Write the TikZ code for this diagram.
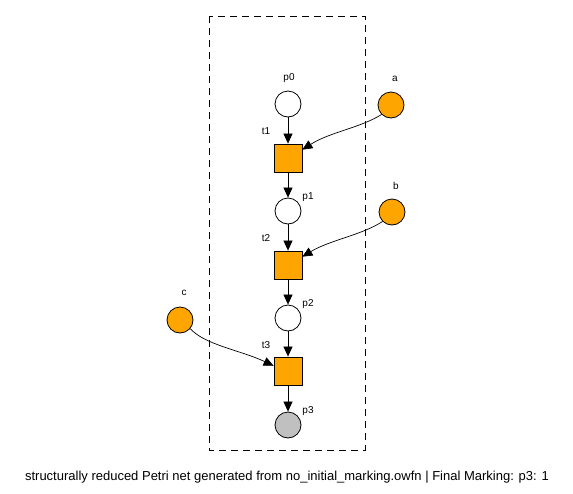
\documentclass[tikz,border=0pt]{standalone}
\usepackage{fontspec}
\setmainfont{Liberation Sans}
\usetikzlibrary{arrows.meta}
\definecolor{porange}{HTML}{FFA500}
\definecolor{pgray}{HTML}{C0C0C0}
\tikzset{
  place/.style={circle,draw=black,line width=0.8pt,minimum size=26pt,inner sep=0pt,fill=white},
  iplace/.style={place,fill=porange},
  fplace/.style={place,fill=pgray},
  trans/.style={rectangle,draw=black,line width=0.8pt,minimum size=28pt,inner sep=0pt,fill=porange},
  lbl/.style={font=\fontsize{10}{11}\selectfont,inner sep=0pt},
  arc/.style={draw=black,line width=0.7pt,-{Triangle[length=10pt,width=9pt]}},
}
\begin{document}
\begin{tikzpicture}[x=1pt,y=-1pt]
\useasboundingbox (0,0) rectangle (573,493);
\draw[dash pattern=on 7pt off 5pt,line width=0.7pt] (209,16) rectangle (365,450);
\node[place] (p0) at (288,104) {};
\node[iplace] (a) at (391,105) {};
\node[trans] (t1) at (288,158) {};
\node[place] (p1) at (288,211) {};
\node[iplace] (b) at (392,212) {};
\node[trans] (t2) at (288,265) {};
\node[place] (p2) at (288,318) {};
\node[iplace] (c) at (180,320) {};
\node[trans] (t3) at (288,371) {};
\node[fplace] (p3) at (288,425) {};
\node[lbl] (lp0) at (289,78) {p0};
\node[lbl] (la) at (395,79) {a};
\node[lbl] (lt1) at (266,131) {t1};
\node[lbl] (lp1) at (308,197) {p1};
\node[lbl] (lb) at (396,186) {b};
\node[lbl] (lt2) at (266,238) {t2};
\node[lbl] (lp2) at (308,304) {p2};
\node[lbl] (lc) at (184,293) {c};
\node[lbl] (lt3) at (266,345) {t3};
\node[lbl] (lp3) at (308,411) {p3};
\draw[arc] (p0) -- (t1);
\draw[arc] (t1) -- (p1);
\draw[arc] (p1) -- (t2);
\draw[arc] (t2) -- (p2);
\draw[arc] (p2) -- (t3);
\draw[arc] (t3) -- (p3);
\draw[arc] (a.225) .. controls (360,128) and (330,132) .. (t1.30);
\draw[arc] (b.225) .. controls (362,235) and (330,240) .. (t2.30);
\draw[arc] (c.-40) .. controls (205,345) and (240,350) .. (t3.160);
\node[font=\fontsize{13}{15}\selectfont,inner sep=0pt] (cap) at (287,477) {structurally reduced Petri net generated from no\_initial\_marking.owfn | Final Marking: p3: 1};
\end{tikzpicture}
\end{document}
